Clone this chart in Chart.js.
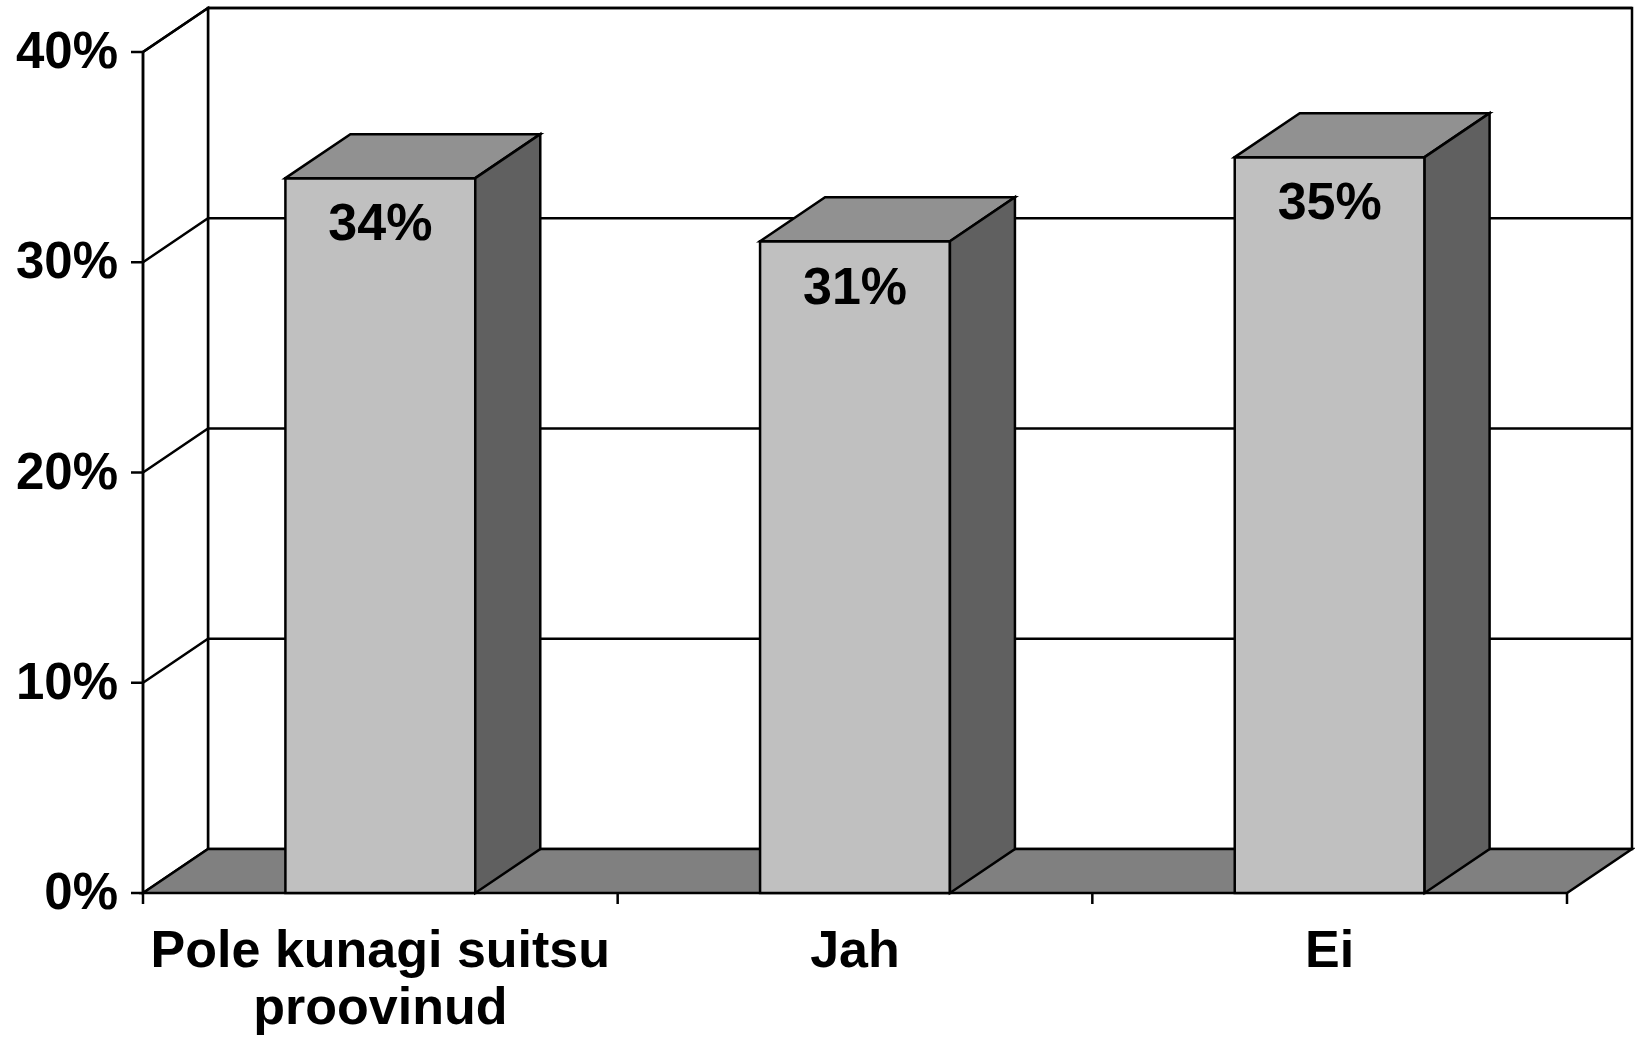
<!DOCTYPE html>
<html>
<head>
<meta charset="utf-8">
<script src="https://cdn.jsdelivr.net/npm/chart.js@4.4.0/dist/chart.umd.min.js"></script>
<style>
    html, body { margin: 0; padding: 0; background: #fff; }
    #wrap { width: 1635px; height: 1037px; }
</style>
</head>
<body>
<div id="wrap"><canvas id="chart" width="1635" height="1037"></canvas></div>
<script>
(function () {
    'use strict';

    /* ── Data ── */
    var categories = [['Pole kunagi suitsu', 'proovinud'], ['Jah'], ['Ei']];
    var shares = [34, 31, 35];
    var tickValues = [0, 10, 20, 30, 40];
    var tickLabels = ['0%', '10%', '20%', '30%', '40%'];

    /* ── Look ── */
    var depth = { dx: 65, dy: 44 };
    var colours = {
        front: '#c0c0c0',
        top: '#919191',
        side: '#606060',
        floor: '#808080',
        line: '#000'
    };
    var fontFamily = '"Liberation Sans", Arial, sans-serif';
    var lineWidth = 2.5;

    function poly(ctx, pts, fill) {
        ctx.beginPath();
        ctx.moveTo(pts[0][0], pts[0][1]);
        for (var i = 1; i < pts.length; i++) ctx.lineTo(pts[i][0], pts[i][1]);
        ctx.closePath();
        if (fill) { ctx.fillStyle = fill; ctx.fill(); }
        ctx.stroke();
    }

    /* ── Walls, floor and gridlines behind the bars ── */
    var wallsPlugin = {
        id: 'walls',
        beforeDatasetsDraw: function (chart) {
            var ctx = chart.ctx;
            var ys = chart.scales.y;
            var L = chart.chartArea.left, R = chart.chartArea.right;
            var T = ys.getPixelForValue(tickValues[tickValues.length - 1]);
            var B = ys.getPixelForValue(0);
            var dx = depth.dx, dy = depth.dy;

            ctx.save();
            ctx.lineWidth = lineWidth;
            ctx.strokeStyle = colours.line;

            // back wall
            poly(ctx, [[L + dx, T - dy], [R + dx, T - dy], [R + dx, B - dy], [L + dx, B - dy]], '#fff');
            // side wall
            poly(ctx, [[L, B], [L, T], [L + dx, T - dy], [L + dx, B - dy]], '#fff');

            // gridlines
            tickValues.forEach(function (v) {
                if (v === 0) return;
                var y = ys.getPixelForValue(v);
                ctx.beginPath();
                ctx.moveTo(L, y);
                ctx.lineTo(L + dx, y - dy);
                ctx.lineTo(R + dx, y - dy);
                ctx.stroke();
            });

            // floor
            poly(ctx, [[L, B], [R, B], [R + dx, B - dy], [L + dx, B - dy]], colours.floor);

            // value axis with tick marks
            ctx.beginPath();
            ctx.moveTo(L, T);
            ctx.lineTo(L, B + 11);
            tickValues.forEach(function (v) {
                var y = ys.getPixelForValue(v);
                ctx.moveTo(L - 12, y);
                ctx.lineTo(L, y);
            });
            // category boundary ticks
            var n = categories.length;
            var w = (R - L) / n;
            for (var i = 1; i <= n; i++) {
                ctx.moveTo(L + i * w, B);
                ctx.lineTo(L + i * w, B + 11);
            }
            ctx.stroke();
            ctx.restore();
        },

        /* ── 3D faces and value labels on the bars ── */
        afterDatasetsDraw: function (chart) {
            var ctx = chart.ctx;
            var dx = depth.dx, dy = depth.dy;
            var meta = chart.getDatasetMeta(0);

            ctx.save();
            ctx.lineWidth = lineWidth;
            ctx.strokeStyle = colours.line;
            meta.data.forEach(function (bar, i) {
                var p = bar.getProps(['x', 'y', 'base', 'width'], true);
                var l = p.x - p.width / 2, r = p.x + p.width / 2;
                var t = p.y, b = p.base;

                poly(ctx, [[l, t], [r, t], [r, b], [l, b]], null);
                poly(ctx, [[l, t], [l + dx, t - dy], [r + dx, t - dy], [r, t]], colours.top);
                poly(ctx, [[r, t], [r + dx, t - dy], [r + dx, b - dy], [r, b]], colours.side);

                ctx.fillStyle = '#000';
                ctx.font = 'bold 52px ' + fontFamily;
                ctx.textAlign = 'center';
                ctx.textBaseline = 'middle';
                ctx.fillText(shares[i] + '%', p.x, t + 48);
            });
            ctx.restore();
        },

        /* ── Axis labels ── */
        afterDraw: function (chart) {
            var ctx = chart.ctx;
            var xs = chart.scales.x, ys = chart.scales.y;
            var L = chart.chartArea.left;
            var B = ys.getPixelForValue(0);

            ctx.save();
            ctx.fillStyle = '#000';
            ctx.font = 'bold 51px ' + fontFamily;
            ctx.textAlign = 'right';
            ctx.textBaseline = 'middle';
            tickValues.forEach(function (v, i) {
                ctx.fillText(tickLabels[i], L - 25, ys.getPixelForValue(v) + 2);
            });

            ctx.font = 'bold 52px ' + fontFamily;
            ctx.textAlign = 'center';
            categories.forEach(function (lines, i) {
                var x = xs.getPixelForValue(i);
                lines.forEach(function (line, j) {
                    ctx.fillText(line, x, B + 60 + j * 57);
                });
            });
            ctx.restore();
        }
    };

    new Chart(document.getElementById('chart'), {
        type: 'bar',
        data: {
            labels: categories,
            datasets: [{
                data: shares,
                backgroundColor: colours.front,
                borderWidth: 0,
                barPercentage: 0.4,
                categoryPercentage: 1.0
            }]
        },
        options: {
            responsive: false,
            animation: false,
            devicePixelRatio: 1,
            layout: {
                padding: { left: 143, right: 68, top: 52, bottom: 144 }
            },
            plugins: {
                legend: { display: false },
                tooltip: { enabled: false }
            },
            scales: {
                x: { display: false, offset: true },
                y: { display: false, min: 0, max: 40 }
            }
        },
        plugins: [wallsPlugin]
    });
})();
</script>
</body>
</html>
